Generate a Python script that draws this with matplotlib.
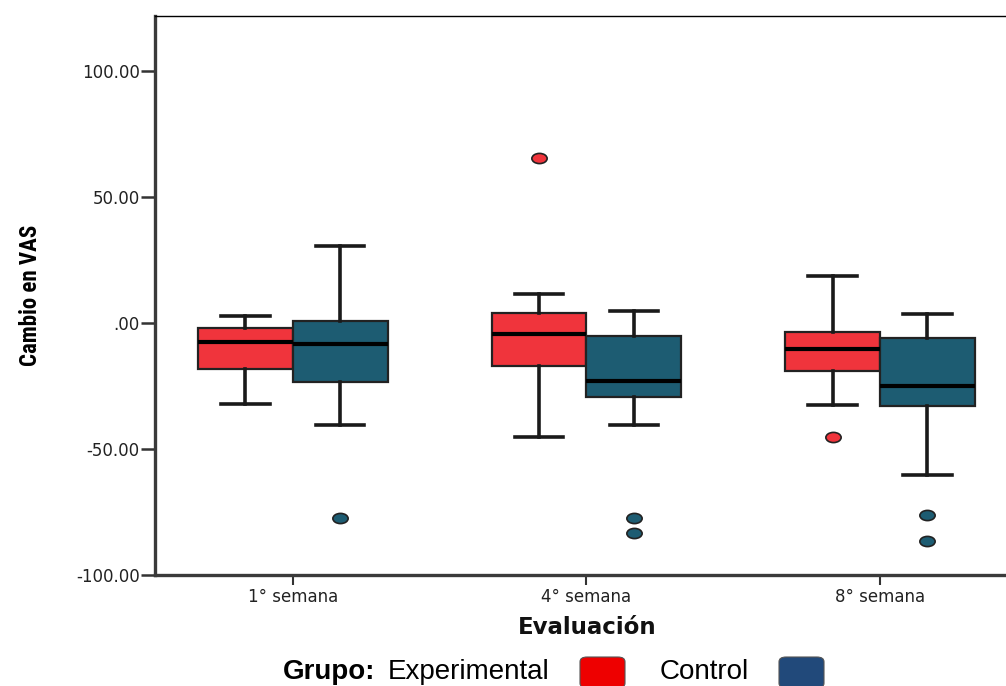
import matplotlib
matplotlib.use("Agg")
import matplotlib.pyplot as plt
from matplotlib.path import Path
from matplotlib.transforms import Affine2D
from matplotlib.patches import FancyBboxPatch
from matplotlib import font_manager as fm

# ---------------- data ----------------
categories = ["1° semana", "4° semana", "8° semana"]
groups = ["Experimental", "Control"]

exp_whislo = [-32.2, -45.2, -32.3]
exp_q1 = [-18.0, -17.0, -19.1]
exp_med = [-7.4, -4.1, -10.3]
exp_q3 = [-1.9, 4.2, -3.4]
exp_whishi = [2.8, 11.7, 18.8]
exp_fliers = [[], [65.7], [-45.2]]

ctl_whislo = [-40.3, -40.3, -60.2]
ctl_q1 = [-23.3, -29.2, -32.7]
ctl_med = [-8.4, -23.1, -25.0]
ctl_q3 = [0.9, -4.9, -5.8]
ctl_whishi = [30.7, 4.8, 3.8]
ctl_fliers = [[-77.3], [-77.3, -83.2], [-76.3, -86.3]]

ytick_values = [100, 50, 0, -50, -100]
ytick_labels = ["100.00", "50.00", ".00", "-50.00", "-100.00"]

# ---------------- style ----------------
fams = {f.name for f in fm.fontManager.ttflist}
narrow = ("Liberation Sans Narrow" if "Liberation Sans Narrow" in fams
          else "Roboto Condensed" if "Roboto Condensed" in fams else "Liberation Sans")
plt.rcParams["font.family"] = ["Liberation Sans", "DejaVu Sans"]

exp_fill = "#F0343C"
ctl_fill = "#1D5C72"
legend_red = "#EE0000"
legend_blue = "#21497A"

fig = plt.figure(figsize=(10.06, 6.86), dpi=100)
ax = fig.add_axes([155 / 1006, 1 - 575 / 686, 1 - 155 / 1006, (575 - 16) / 686])

ellipse = Path.unit_circle().transformed(Affine2D().scale(1.5, 1.0))

def stats(lo, q1, med, q3, hi, fl):
    return [dict(whislo=lo[i], q1=q1[i], med=med[i], q3=q3[i], whishi=hi[i], fliers=fl[i])
            for i in range(len(lo))]

half = 0.1615
positions = range(1, len(categories) + 1)

def draw(st, offs, fill):
    ax.bxp(st, positions=[p + offs for p in positions], widths=2 * half * 0.999,
           patch_artist=True, capwidths=0.165,
           boxprops=dict(facecolor=fill, edgecolor="#222222", linewidth=1.6),
           medianprops=dict(color="black", linewidth=3.0),
           whiskerprops=dict(color="#1a1a1a", linewidth=2.6),
           capprops=dict(color="#1a1a1a", linewidth=2.6),
           flierprops=dict(marker=ellipse, markersize=11, markerfacecolor=fill,
                           markeredgecolor="#222222", markeredgewidth=1.2, linestyle="none"))

draw(stats(exp_whislo, exp_q1, exp_med, exp_q3, exp_whishi, exp_fliers), -half, exp_fill)
draw(stats(ctl_whislo, ctl_q1, ctl_med, ctl_q3, ctl_whishi, ctl_fliers), half, ctl_fill)

ax.set_xlim(0.531, 3.429)
ax.set_ylim(-100, 122)
ax.set_yticks(ytick_values)
ax.set_yticklabels(ytick_labels, family="DejaVu Sans")
ax.set_xticks(list(positions))
ax.set_xticklabels(categories, family="DejaVu Sans")
ax.tick_params(axis="y", length=10, width=1.8, color="#333333", labelsize=12, pad=1, labelcolor="#222222")
ax.tick_params(axis="x", length=7, width=1.5, color="#333333", labelsize=12, pad=2, labelcolor="#222222")

for s in ["left", "bottom"]:
    ax.spines[s].set_linewidth(2.4)
    ax.spines[s].set_color("#3a3a3a")
ax.spines["top"].set_linewidth(1.0)
ax.spines["top"].set_color("#000000")
ax.spines["right"].set_visible(False)

ax.set_ylabel("Cambio en VAS", family=[narrow, "DejaVu Sans"], fontweight="bold", fontsize=16.5)
ax.yaxis.set_label_coords(-0.133, 0.5)
fig.text(587 / 1006, 1 - 627 / 686, "Evaluación", ha="center", va="center",
         fontsize=16.5, fontweight="bold", family=["DejaVu Sans"], color="#111111")

# ---------------- legend ----------------
ly = 1 - 679 / 686
fig.text(283 / 1006, ly, "Grupo:", ha="left", va="baseline", fontsize=20,
         fontweight="bold", family=["Liberation Sans", "DejaVu Sans"])
fig.text(388 / 1006, ly, groups[0], ha="left", va="baseline", fontsize=20,
         family=["Liberation Sans", "DejaVu Sans"])
fig.text(660 / 1006, ly, groups[1], ha="left", va="baseline", fontsize=20,
         family=["Liberation Sans", "DejaVu Sans"])
for x0, c in [(580, legend_red), (779, legend_blue)]:
    fig.patches.append(FancyBboxPatch((x0 / 1006, 1 - 688 / 686), 45 / 1006, 31 / 686,
                                      boxstyle="round,pad=0,rounding_size=0.007",
                                      transform=fig.transFigure, facecolor=c,
                                      edgecolor="#555555", linewidth=0.8))

fig.savefig("out.png", dpi=100)
